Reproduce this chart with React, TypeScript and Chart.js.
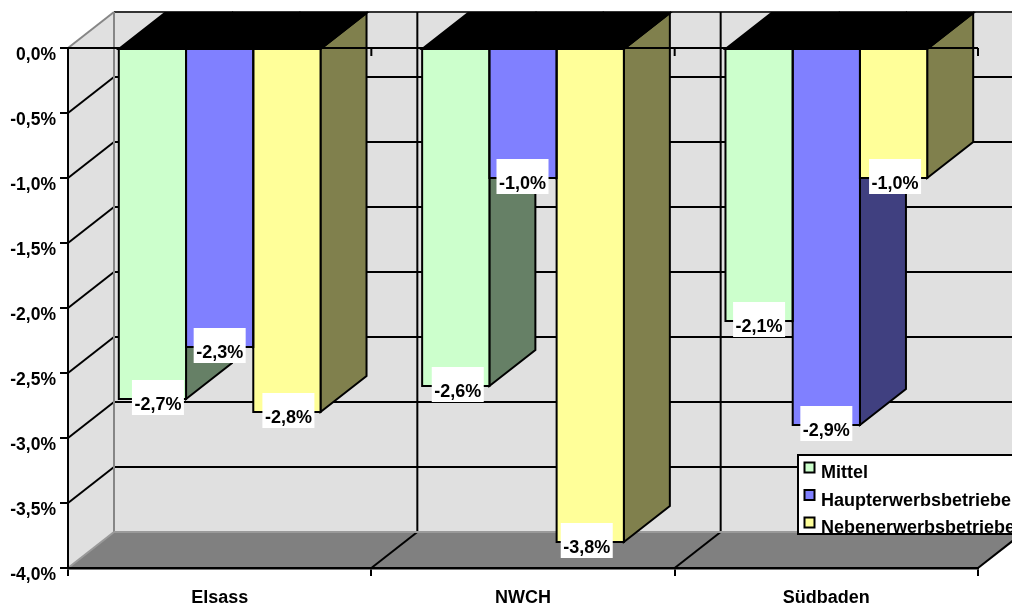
import React, { useEffect, useRef } from "react";
import { Chart, registerables } from "chart.js";

Chart.register(...registerables);

const categories = ["Elsass", "NWCH", "Südbaden"];
const mittel = [-2.7, -2.6, -2.1];
const haupterwerb = [-2.3, -1.0, -2.9];
const nebenerwerb = [-2.8, -3.8, -1.0];

const FONT = "'Liberation Sans', Arial, sans-serif";
const FRONT = ["#CCFFCC", "#8080FF", "#FFFF99"];
const SIDE = ["#668066", "#404080", "#80804D"];
const WALL = "#E0E0E0";
const FLOOR = "#808080";
const EDGE = "#868686";
const STROKE = 2;

// Oblique offset of the back plane relative to the front plane.
const DX = 46;
const DY = -36;

// Small sideways nudges of the value labels, per dataset and category.
const labelNudge = [
  [5.5, 2, 0],
  [0, -0.5, 0],
  [1.5, -3.5, 1.5],
];

const fmt = (v: number) => v.toFixed(1).replace(".", ",") + "%";

function poly(ctx: CanvasRenderingContext2D, pts: number[][], fill?: string, stroke?: string, lw = STROKE) {
  ctx.beginPath();
  pts.forEach(([x, y], i) => (i ? ctx.lineTo(x, y) : ctx.moveTo(x, y)));
  ctx.closePath();
  if (fill) {
    ctx.fillStyle = fill;
    ctx.fill();
  }
  if (stroke) {
    ctx.strokeStyle = stroke;
    ctx.lineWidth = lw;
    ctx.lineJoin = "miter";
    ctx.stroke();
  }
}

function line(ctx: CanvasRenderingContext2D, x1: number, y1: number, x2: number, y2: number, color = "#000", lw = STROKE) {
  ctx.beginPath();
  ctx.moveTo(x1, y1);
  ctx.lineTo(x2, y2);
  ctx.strokeStyle = color;
  ctx.lineWidth = lw;
  ctx.stroke();
}

function boundaries(chart: any): number[] {
  const x = chart.scales.x;
  const step = (x.right - x.left) / categories.length;
  return categories.map((_, i) => x.getPixelForValue(i) - step / 2).concat([x.right]);
}

// Walls, floor and their grid, plus the legend panel and its colour keys.
const roomPlugin = {
  id: "room",
  beforeDraw(chart: any) {
    const { ctx, scales } = chart;
    const { x, y } = scales;
    const L = x.left, R = x.right, T = y.getPixelForValue(0), B = y.getPixelForValue(-4);
    ctx.save();
    poly(ctx, [[L, T], [L + DX, T + DY], [L + DX, B + DY], [L, B]], WALL);
    poly(ctx, [[L + DX, T + DY], [R + DX, T + DY], [R + DX, B + DY], [L + DX, B + DY]], WALL);
    poly(ctx, [[L, B], [R, B], [R + DX, B + DY], [L + DX, B + DY]], FLOOR);

    y.ticks.forEach((t: any) => {
      const py = y.getPixelForValue(t.value);
      if (t.value === -4) return;
      if (t.value !== 0) line(ctx, L, py, L + DX, py + DY);
      line(ctx, L + DX, py + DY, R + DX, py + DY, t.value === 0 ? "#333" : "#000");
    });
    boundaries(chart).forEach((bx: number, i: number) => {
      if (i > 0) {
        line(ctx, bx + DX, T + DY, bx + DX, B + DY);
        line(ctx, bx, B, bx + DX, B + DY);
      }
    });
    line(ctx, L, T, L + DX, T + DY, EDGE);
    line(ctx, L + DX, T + DY, L + DX, B + DY, EDGE);
    line(ctx, L + DX, B + DY, R + DX, B + DY, "#9a9a9a");
    line(ctx, L, B, L + DX, B + DY, "#9a9a9a");

    // legend panel
    ctx.fillStyle = "#fff";
    ctx.fillRect(798, 455, 300, 79);
    ctx.strokeStyle = "#000";
    ctx.lineWidth = STROKE;
    ctx.strokeRect(798, 455, 300, 79);
    FRONT.forEach((color, i) => {
      ctx.fillStyle = color;
      ctx.fillRect(804.5, 462.5 + i * 27.5, 10, 10);
      ctx.strokeRect(804.5, 462.5 + i * 27.5, 10, 10);
    });
    ctx.restore();
  },
  afterLayout(chart: any) {
    const lg = chart.legend;
    lg.left = 794.5;
    lg.top = 455;
    lg.right = 1300;
    lg.bottom = 600;
  },
  // Depth faces of every bar: the fronts painted by the library cover them afterwards.
  beforeDatasetsDraw(chart: any) {
    const { ctx } = chart;
    ctx.save();
    categories.forEach((_, c) => {
      chart.data.datasets.forEach((_d: any, s: number) => {
        const bar = chart.getDatasetMeta(s).data[c];
        const xr = bar.x + bar.width / 2;
        const xl = bar.x - bar.width / 2;
        poly(ctx, [[xr, bar.base], [xr + DX, bar.base + DY], [xr + DX, bar.y + DY], [xr, bar.y]], SIDE[s], "#000");
        poly(ctx, [[xl, bar.base], [xr, bar.base], [xr + DX, bar.base + DY], [xl + DX, bar.base + DY]], "#000", "#000");
      });
    });
    ctx.restore();
  },
  afterDatasetsDraw(chart: any) {
    const { ctx, scales } = chart;
    const { x, y } = scales;
    const zero = y.getPixelForValue(0);
    ctx.save();
    chart.data.datasets.forEach((_d: any, s: number) => {
      chart.getDatasetMeta(s).data.forEach((bar: any) => {
        ctx.strokeStyle = "#000";
        ctx.lineWidth = STROKE;
        ctx.strokeRect(bar.x - bar.width / 2, bar.base, bar.width, bar.y - bar.base);
      });
    });
    // Axis line through the zero value, with its ticks
    line(ctx, x.left, zero, x.right, zero);
    boundaries(chart).forEach((bx: number, i: number) => {
      if (i > 0) line(ctx, bx, zero, bx, zero + 8);
    });
    // Value labels on white plates
    ctx.font = `bold 18px ${FONT}`;
    ctx.textAlign = "center";
    ctx.textBaseline = "middle";
    chart.data.datasets.forEach((d: any, s: number) => {
      chart.getDatasetMeta(s).data.forEach((bar: any, c: number) => {
        const cx = bar.x + labelNudge[s][c];
        const cy = bar.y - 1.5;
        ctx.fillStyle = "#fff";
        ctx.fillRect(cx - 26, cy - 17.5, 52, 35);
        ctx.fillStyle = "#000";
        ctx.fillText(fmt(d.data[c]), cx, cy + 8);
      });
    });
    ctx.restore();
  },
};

export default function App() {
  const ref = useRef<HTMLCanvasElement>(null);

  useEffect(() => {
    const chart = new Chart(ref.current!, {
      type: "bar",
      data: {
        labels: categories,
        datasets: [
          { label: "Mittel", data: mittel, backgroundColor: FRONT[0], borderWidth: 0 },
          { label: "Haupterwerbsbetriebe", data: haupterwerb, backgroundColor: FRONT[1], borderWidth: 0 },
          { label: "Nebenerwerbsbetriebe", data: nebenerwerb, backgroundColor: FRONT[2], borderWidth: 0 },
        ],
      },
      options: {
        animation: false,
        responsive: false,
        devicePixelRatio: 1,
        layout: { padding: { top: 48, right: 34, left: 0, bottom: 0 } },
        datasets: { bar: { barPercentage: 1, categoryPercentage: 0.665 } },
        scales: {
          x: {
            afterFit: (s: any) => {
              s.height = 37;
            },
            grid: { offset: true, drawOnChartArea: false, drawTicks: true, tickLength: 8, color: "#000", lineWidth: STROKE },
            border: { color: "#000", width: 2.5 },
            ticks: { color: "#000", padding: 11, maxRotation: 0, font: { family: FONT, size: 18, weight: "bold" } },
          },
          y: {
            min: -4,
            max: 0,
            afterFit: (s: any) => {
              s.width = 68;
            },
            grid: { drawOnChartArea: false, drawTicks: true, tickLength: 8, color: "#000", lineWidth: STROKE },
            border: { color: "#000", width: 2 },
            ticks: {
              stepSize: 0.5,
              color: "#000",
              padding: 4,
              labelOffset: 7,
              callback: (v: any) => fmt(Number(v)),
              font: { family: FONT, size: 17.5, weight: "bold" },
            },
          },
        },
        plugins: {
          tooltip: { enabled: false },
          legend: {
            position: "chartArea",
            align: "start",
            labels: {
              color: "#000",
              boxWidth: 8,
              boxHeight: 8,
              padding: 9.5,
              font: { family: FONT, size: 18, weight: "bold" },
              generateLabels: (c: any) =>
                c.data.datasets.map((d: any, i: number) => ({
                  text: d.label,
                  fillStyle: "rgba(0,0,0,0)",
                  strokeStyle: "rgba(0,0,0,0)",
                  lineWidth: 0,
                  datasetIndex: i,
                })),
            },
          },
        },
      } as any,
      plugins: [roomPlugin],
    });
    return () => chart.destroy();
  }, []);

  return (
    <canvas
      ref={ref}
      width={1012}
      height={605}
      style={{ position: "absolute", left: 0, top: 0, display: "block", width: 1012, height: 605 }}
    />
  );
}
